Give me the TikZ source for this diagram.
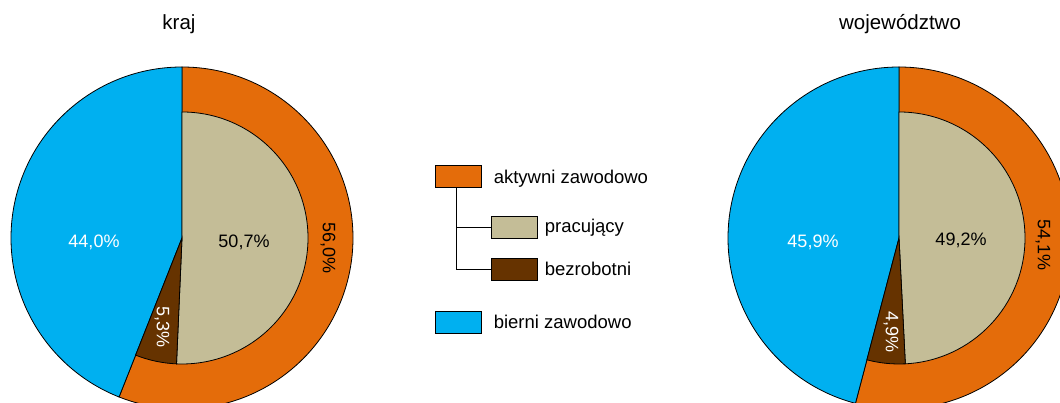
\documentclass[tikz,border=0pt]{standalone}
\usepackage{fontspec}
\setmainfont{Liberation Sans}
\usetikzlibrary{positioning}

\definecolor{aktywni}{HTML}{E46C0A}
\definecolor{pracujacy}{HTML}{C4BD97}
\definecolor{bezrobotni}{HTML}{663300}
\definecolor{bierni}{HTML}{00B0F0}

\begin{document}
\begin{tikzpicture}[x=1pt,y=1pt,line width=0.8pt]
				\tikzset{box/.style={draw,minimum width=46pt,minimum height=22pt,inner sep=0pt},
					opis/.style={inner sep=0pt,font=\fontsize{18.5}{22}\selectfont},
					proc/.style={inner sep=0pt,font=\fontsize{18}{22}\selectfont},
					tytul/.style={inner sep=0pt,anchor=base,font=\fontsize{20.5}{24}\selectfont}}
				\clip (0,0) rectangle (1060,403);
				\coordinate (kraj) at (182,165);
				\coordinate (woj) at (899,165);
				% kraj
				\draw[fill=aktywni] (kraj) -- ++(90:171) arc[start angle=90,end angle=-111.6,radius=171] -- cycle;
				\draw[fill=bierni] (kraj) -- ++(90:171) arc[start angle=90,end angle=248.4,radius=171] -- cycle;
				\draw[fill=pracujacy] (kraj) -- ++(90:126) arc[start angle=90,end angle=-92.5,radius=126] -- cycle;
				\draw[fill=bezrobotni] (kraj) -- ++(-92.5:126) arc[start angle=-92.5,end angle=-111.6,radius=126] -- cycle;
				\node[tytul] (t1) at (179,373) {kraj};
				\node[proc,text=white] (k1) at (94,161) {44,0\%};
				\node[proc] (k2) at (244,161) {50,7\%};
				\node[proc,rotate=-90] (k3) at (328,155) {56,0\%};
				\node[proc,rotate=-90,text=white] (k4) at (162,76) {5,3\%};
				% wojewodztwo
				\draw[fill=aktywni] (woj) -- ++(90:171) arc[start angle=90,end angle=-104.76,radius=171] -- cycle;
				\draw[fill=bierni] (woj) -- ++(90:171) arc[start angle=90,end angle=255.24,radius=171] -- cycle;
				\draw[fill=pracujacy] (woj) -- ++(90:126) arc[start angle=90,end angle=-87.12,radius=126] -- cycle;
				\draw[fill=bezrobotni] (woj) -- ++(-87.12:126) arc[start angle=-87.12,end angle=-104.76,radius=126] -- cycle;
				\node[tytul] (t2) at (900,373) {województwo};
				\node[proc,text=white] (w1) at (813,161) {45,9\%};
				\node[proc] (w2) at (961,163) {49,2\%};
				\node[proc,rotate=-90] (w3) at (1043,158) {54,1\%};
				\node[proc,rotate=-90,text=white] (w4) at (891,71) {4,9\%};
				% legenda
				\node[box,fill=aktywni] (akt) at (458,227) {};
				\node[box,fill=pracujacy] (pra) at (514,176) {};
				\node[box,fill=bezrobotni] (bez) at (514,134) {};
				\node[box,fill=bierni] (bie) at (458,81) {};
				\node[opis,right=12pt of akt,yshift=-3pt] (lakt) {aktywni zawodowo};
				\node[opis,right=7pt of pra,yshift=-1pt] (lpra) {pracujący};
				\node[opis,right=7pt of bez] (lbez) {bezrobotni};
				\node[opis,right=12pt of bie] (lbie) {bierni zawodowo};
				\draw ([xshift=-2pt]akt.south) |- (bez.west);
				\draw ([xshift=-2pt]akt.south |- pra.west) -- (pra.west);
			\end{tikzpicture}
\end{document}
